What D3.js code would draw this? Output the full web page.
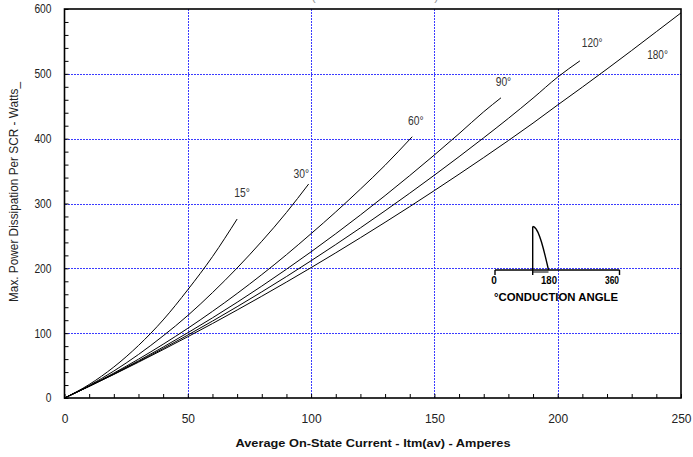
<!DOCTYPE html>
<html>
<head>
<meta charset="utf-8">
<script src="https://cdn.jsdelivr.net/npm/d3@7"></script>
<style>
  body { margin: 0; background: #fff; }
  text { font-family: "Liberation Sans", Arial, sans-serif; }
</style>
</head>
<body>
<svg id="chart"></svg>
<script>
// current (A) / power (W), one pair of arrays per conduction angle
var amps15 = [0, 10, 20, 30, 40, 50, 60, 70];
var watts15 = [0, 20.8, 47.8, 81, 120.4, 167, 218, 276];
var amps30 = [0, 10, 20, 30, 40, 50, 60, 70, 80, 90, 99];
var watts30 = [0, 19.2, 41.6, 67.1, 95.8, 127.3, 162.5, 200.5, 241.7, 286.1, 330];
var amps60 = [0, 10, 20, 30, 40, 50, 60, 70, 80, 90, 100, 110, 120, 130, 141];
var watts60 = [0, 18.4, 38.4, 59.9, 82.9, 107.5, 133.6, 161.2, 190.3, 221, 253.5, 287, 322.2, 359, 403];
var amps90 = [0, 10, 20, 30, 40, 50, 60, 70, 80, 90, 100, 110, 120, 130, 140, 150, 160, 170, 177];
var watts90 = [0, 18.2, 37.3, 57.4, 78.5, 100.6, 123.6, 147.6, 172.6, 198.6, 225.5, 253.4, 282.3, 312.2, 343.1, 374.9, 407.7, 441.5, 463];
var amps120 = [0, 10, 20, 30, 40, 50, 60, 70, 80, 90, 100, 110, 120, 130, 140, 150, 160, 170, 180, 190, 200, 209];
var watts120 = [0, 18, 36.7, 56.2, 76.3, 97.1, 118.6, 140.8, 163.7, 187.3, 211.7, 236.7, 262.4, 288.8, 315.9, 343.7, 372.2, 401.4, 431.3, 462.5, 495, 520];
var amps180 = [0, 10, 20, 30, 40, 50, 60, 70, 80, 90, 100, 110, 120, 130, 140, 150, 160, 170, 180, 190, 200, 210, 220, 230, 240, 250];
var watts180 = [0, 17.9, 36.3, 55.2, 74.6, 94.5, 114.8, 135.7, 157, 178.8, 201.1, 223.9, 247.2, 271, 295.2, 320, 345.2, 370.9, 397.1, 424, 452, 479.5, 507.5, 536, 565, 594];

var curveNames = ["15°", "30°", "60°", "90°", "120°", "180°"];
var xTicks = [0, 50, 100, 150, 200, 250];
var yTicks = [0, 100, 200, 300, 400, 500, 600];

var screen = {width: 693, height: 457};
var margins = {top: 9, bottom: 59, left: 64.5, right: 12};
var graph = {
    width: screen.width - margins.left - margins.right,
    height: screen.height - margins.top - margins.bottom
};

var svg = d3.select("#chart")
    .attr("width", screen.width)
    .attr("height", screen.height);

svg.append("rect").attr("width", screen.width).attr("height", screen.height).attr("fill", "#fff");

var xScale = d3.scaleLinear().domain([0, 250]).range([margins.left, margins.left + graph.width]);
var yScale = d3.scaleLinear().domain([0, 600]).range([margins.top + graph.height, margins.top]);

// title sits above the frame and is almost all cut off, as in the original
svg.append("text")
    .attr("x", 375).attr("y", 0)
    .attr("text-anchor", "middle")
    .style("font-size", "12px").style("fill", "#999")
    .attr("textLength", 127).attr("lengthAdjust", "spacingAndGlyphs")
    .text("(Sinusoidal Waveform)");

// grid lines
var gridColor = "#3b3bff";
svg.append("g")
    .style("shape-rendering", "crispEdges")
    .selectAll("line")
    .data([50, 100, 150, 200])
    .enter()
    .append("line")
    .attr("x1", function(d){ return Math.round(xScale(d)) + 0.5; })
    .attr("x2", function(d){ return Math.round(xScale(d)) + 0.5; })
    .attr("y1", yScale(0)).attr("y2", yScale(600))
    .style("stroke", gridColor).style("stroke-width", 1).style("stroke-dasharray", "2,1");

svg.append("g")
    .style("shape-rendering", "crispEdges")
    .selectAll("line")
    .data([100, 200, 300, 400, 500])
    .enter()
    .append("line")
    .attr("y1", function(d){ return Math.round(yScale(d)) + 0.5; })
    .attr("y2", function(d){ return Math.round(yScale(d)) + 0.5; })
    .attr("x1", xScale(0)).attr("x2", xScale(250))
    .style("stroke", gridColor).style("stroke-width", 1).style("stroke-dasharray", "2,1");

// minor ticks, pointing inward
var xMinor = d3.axisBottom(xScale).tickValues(d3.range(0, 251, 10)).tickSize(-4).tickFormat("");
svg.append("g").attr("transform", "translate(0," + yScale(0) + ")").call(xMinor)
    .call(function(g){ g.select(".domain").remove(); });
var yMinor = d3.axisLeft(yScale).tickValues(d3.range(0, 601, 20)).tickSize(-4).tickFormat("");
svg.append("g").attr("transform", "translate(" + xScale(0) + ",0)").call(yMinor)
    .call(function(g){ g.select(".domain").remove(); });

// frame
svg.append("rect")
    .attr("x", xScale(0)).attr("y", yScale(600))
    .attr("width", xScale(250) - xScale(0)).attr("height", yScale(0) - yScale(600))
    .attr("fill", "none").style("stroke", "#000").style("stroke-width", 1.6);

// tick labels
var xAxis = d3.axisBottom(xScale).tickValues(xTicks).tickSize(0).tickPadding(16);
svg.append("g").attr("transform", "translate(0," + yScale(0) + ")").call(xAxis)
    .call(function(g){
        g.select(".domain").remove();
        g.selectAll("text").style("font-size", "12px").style("fill", "#222")
            .style("font-family", "'Liberation Sans', Arial, sans-serif");
    });
var yAxis = d3.axisLeft(yScale).tickValues(yTicks).tickSize(0).tickPadding(13);
svg.append("g").attr("transform", "translate(" + xScale(0) + ",0)").call(yAxis)
    .call(function(g){
        g.select(".domain").remove();
        g.selectAll("text").style("font-size", "12px").style("fill", "#222")
            .style("font-family", "'Liberation Sans', Arial, sans-serif")
            .attr("textLength", function(d){ return String(d).length * 5.7; })
            .attr("lengthAdjust", "spacingAndGlyphs");
    });

// axis titles
svg.append("text")
    .attr("x", 373).attr("y", 447)
    .attr("text-anchor", "middle")
    .style("font-size", "11px").style("font-weight", "bold").style("fill", "#111")
    .attr("textLength", 275).attr("lengthAdjust", "spacingAndGlyphs")
    .text("Average On-State Current - Itm(av) - Amperes");

svg.append("text")
    .attr("transform", "translate(18,192) rotate(-90)")
    .attr("text-anchor", "middle")
    .style("font-size", "12px").style("fill", "#222")
    .attr("textLength", 220).attr("lengthAdjust", "spacingAndGlyphs")
    .text("Max. Power Dissipation Per SCR - Watts_");

// curves, label spot given in data units
var series = [
    {name: curveNames[0], x: amps15, y: watts15, lx: 72, ly: 316},
    {name: curveNames[1], x: amps30, y: watts30, lx: 96, ly: 346},
    {name: curveNames[2], x: amps60, y: watts60, lx: 142.5, ly: 428},
    {name: curveNames[3], x: amps90, y: watts90, lx: 178, ly: 488},
    {name: curveNames[4], x: amps120, y: watts120, lx: 214, ly: 548},
    {name: curveNames[5], x: amps180, y: watts180, lx: 240.5, ly: 529}
];

var line = d3.line()
    .x(function(d){ return xScale(d[0]); })
    .y(function(d){ return yScale(d[1]); })
    .curve(d3.curveMonotoneX);

svg.append("g")
    .selectAll("path")
    .data(series)
    .enter()
    .append("path")
    .attr("d", function(s){ return line(d3.zip(s.x, s.y)); })
    .attr("fill", "none")
    .style("stroke", "#000").style("stroke-width", 1);

svg.append("g")
    .selectAll("text")
    .data(series)
    .enter()
    .append("text")
    .attr("x", function(s){ return xScale(s.lx); })
    .attr("y", function(s){ return yScale(s.ly); })
    .attr("dy", "0.36em")
    .attr("text-anchor", "middle")
    .style("font-size", "12px").style("fill", "#333")
    .attr("textLength", function(s){ return s.name.length * 5.2; })
    .attr("lengthAdjust", "spacingAndGlyphs")
    .text(function(s){ return s.name; });

// conduction angle inset
var inset = svg.append("g").style("stroke", "#000").attr("fill", "none");
inset.append("line").attr("x1", 495).attr("x2", 619.5).attr("y1", 270).attr("y2", 270).style("stroke-width", 1.6);
inset.append("line").attr("x1", 495).attr("x2", 495).attr("y1", 270).attr("y2", 275).style("stroke-width", 1.4);
inset.append("line").attr("x1", 619.5).attr("x2", 619.5).attr("y1", 270).attr("y2", 275).style("stroke-width", 1.4);
inset.append("line").attr("x1", 532.7).attr("x2", 532.7).attr("y1", 226.5).attr("y2", 275).style("stroke-width", 1.4);
inset.append("line").attr("x1", 532.7).attr("x2", 548.5).attr("y1", 272).attr("y2", 272).style("stroke-width", 1);
var sinePts = d3.range(0, 91, 10).map(function(a){
    return [532.7 + 15.8 * a / 90, 226.5 + 43.5 * (1 - Math.cos(a * Math.PI / 180))];
});
inset.append("path").attr("d", d3.line()(sinePts)).style("stroke-width", 1.4);

var insetText = svg.append("g").style("font-weight", "bold").style("fill", "#000");
insetText.append("text").attr("x", 494).attr("y", 284).attr("text-anchor", "middle")
    .style("font-size", "10px").text("0");
insetText.append("text").attr("x", 549).attr("y", 284).attr("text-anchor", "middle")
    .style("font-size", "10px").attr("textLength", 16).attr("lengthAdjust", "spacingAndGlyphs").text("180");
insetText.append("text").attr("x", 612).attr("y", 284).attr("text-anchor", "middle")
    .style("font-size", "10px").attr("textLength", 14).attr("lengthAdjust", "spacingAndGlyphs").text("360");
insetText.append("text").attr("x", 494).attr("y", 301)
    .style("font-size", "10px").attr("textLength", 124).attr("lengthAdjust", "spacingAndGlyphs")
    .text("°CONDUCTION ANGLE");
</script>
</body>
</html>
